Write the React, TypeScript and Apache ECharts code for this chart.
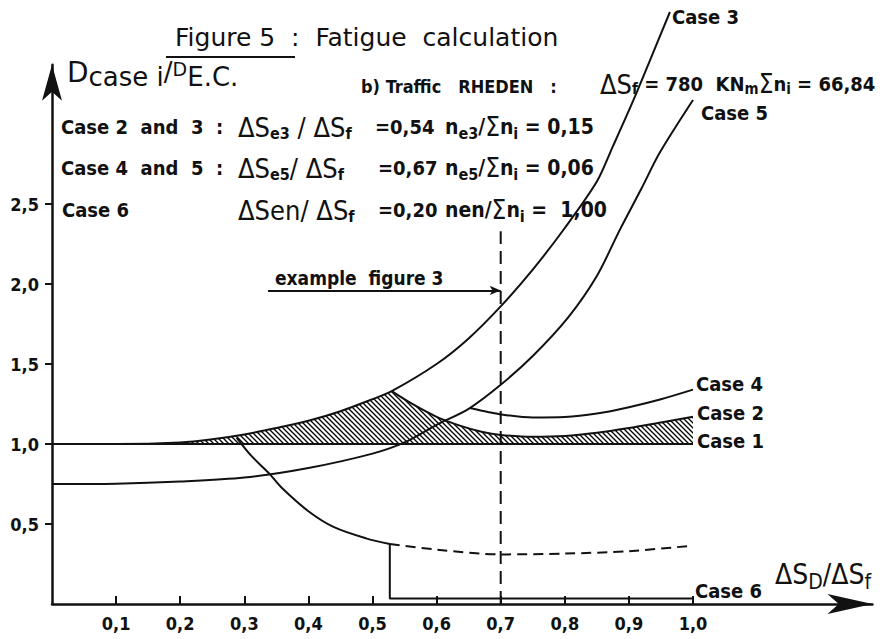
import React, { useEffect, useRef } from "react";
import * as echarts from "echarts";

// ---------- data ----------
const X_TICKS = [0.1, 0.2, 0.3, 0.4, 0.5, 0.6, 0.7, 0.8, 0.9, 1.0];
const Y_TICKS = [0.5, 1.0, 1.5, 2.0, 2.5];

const CASE1 = [[0, 1.0], [1.0, 1.0]];
// Case 3 (identical to Case 2 up to ΔSe3/ΔSf ≈ 0.53)
const CASE3 = [
  [0, 1.0], [0.1, 1.0], [0.2, 1.01], [0.25, 1.03], [0.3, 1.06], [0.35, 1.1],
  [0.4, 1.145], [0.45, 1.205], [0.5, 1.28], [0.53, 1.33], [0.6, 1.5],
  [0.65, 1.66], [0.7, 1.86], [0.75, 2.09], [0.8, 2.35], [0.85, 2.64],
  [0.875, 2.86], [0.905, 3.13], [0.93, 3.37], [0.964, 3.7],
];
// Case 2 branch after the peak
const CASE2 = [
  [0.53, 1.33], [0.56, 1.255], [0.6, 1.17], [0.64, 1.11], [0.67, 1.077],
  [0.7, 1.057], [0.75, 1.045], [0.8, 1.05], [0.85, 1.07], [0.9, 1.1],
  [0.95, 1.135], [1.0, 1.17],
];
const CASE5 = [
  [0, 0.75], [0.1, 0.752], [0.2, 0.765], [0.3, 0.79], [0.4, 0.85], [0.5, 0.94],
  [0.55, 1.01], [0.6, 1.12], [0.65, 1.22], [0.7, 1.37], [0.75, 1.55],
  [0.805, 1.79], [0.85, 2.05], [0.886, 2.34], [0.92, 2.6], [0.948, 2.82],
  [1.0, 3.15],
];
// Case 4 branch after ΔSe5/ΔSf ≈ 0.65
const CASE4 = [
  [0.652, 1.225], [0.68, 1.2], [0.7, 1.185], [0.75, 1.165], [0.8, 1.168],
  [0.85, 1.19], [0.9, 1.23], [0.95, 1.28], [1.0, 1.34],
];
const CASE6_CURVE = [
  [0.288, 1.04], [0.31, 0.93], [0.34, 0.81], [0.36, 0.72], [0.4, 0.58],
  [0.44, 0.48], [0.49, 0.41], [0.527, 0.375],
];
const CASE6_STEP = [[0.527, 0.375], [0.527, 0.035], [1.0, 0.035]];
const CASE6_DASHED = [
  [0.527, 0.375], [0.6, 0.34], [0.7, 0.31], [0.8, 0.315], [0.9, 0.33], [1.0, 0.365],
];
const EXAMPLE_X = 0.7;
const EXAMPLE_TOP = 2.33;
const ARROW_FROM = [0.337, 1.96];
const ARROW_TO = [0.7, 1.96];

// ---------- layout ----------
const X_MAX = 1.28;
const Y_MAX = 3.37;
const PX_X = 641;
const PX_Y = 160;
const ORIGIN_X = 52;
const ORIGIN_Y = 604;

const FONT = '"DejaVu Sans Condensed", "DejaVu Sans", sans-serif';
const FONT_T = '"DejaVu Sans", sans-serif';
const INK = "#111";

const hatchSvg =
  "<svg xmlns='http://www.w3.org/2000/svg' width='5' height='5'>" +
  "<rect width='5' height='5' fill='white'/>" +
  "<path d='M-1,-1L6,6M-1,4L1,6M4,-1L6,1' stroke='black' stroke-width='1.3'/></svg>";
const hatchUrl = "data:image/svg+xml;charset=utf-8," + encodeURIComponent(hatchSvg);

const tok = (fontSize: number, extra: any = {}) => ({
  fontSize,
  fontFamily: FONT,
  fontWeight: "bold",
  fill: INK,
  ...extra,
});

const RICH: any = {
  n: tok(20),
  n2: tok(21),
  s: tok(18),
  big: tok(27, { fontWeight: "normal" }),
  sig: tok(26, { fontWeight: "normal" }),
  sub: tok(16, { padding: [13, 0, 0, 0] }),
  sb: tok(15, { padding: [10, 0, 0, 0] }),
  xb: tok(28, { fontWeight: "normal" }),
  xs: tok(21, { fontWeight: "normal", padding: [16, 0, 0, 0] }),
  yb: tok(28, { fontWeight: "normal", fontFamily: FONT_T }),
  ys: tok(26, { fontWeight: "normal", fontFamily: FONT_T, padding: [10, 0, 0, 0] }),
  ym: tok(26, { fontWeight: "normal", fontFamily: FONT_T }),
  yu: tok(19, { fontWeight: "normal", fontFamily: FONT_T, padding: [0, 0, 6, 0] }),
  t: tok(25, { fontWeight: "normal", fontFamily: FONT_T }),
  e: tok(19),
};

const txt = (x: number, y: number, text: string) => ({
  type: "text",
  x,
  y,
  silent: true,
  style: {
    text,
    rich: RICH,
    fill: INK,
    font: `bold 18px ${FONT}`,
    align: "left",
    verticalAlign: "middle",
    textAlign: "left",
    textVerticalAlign: "middle",
  },
});

const fmt = (v: number) => v.toFixed(1).replace(".", ",");

const lineBase = (name: string, data: number[][], extra: any = {}) => ({
  name,
  type: "line",
  data,
  showSymbol: false,
  symbol: "none",
  clip: false,
  silent: true,
  lineStyle: { color: INK, width: 2 },
  ...extra,
});

const endLabel = (text: string, offset: number[]) => ({
  show: true,
  formatter: text,
  offset,
  distance: 0,
  color: INK,
  fontSize: 20,
  fontWeight: "bold",
  fontFamily: FONT,
});

export default function App() {
  const ref = useRef<HTMLDivElement>(null);
  useEffect(() => {
    if (!ref.current) return;
    const chart = echarts.init(ref.current, undefined, { renderer: "svg" });
    const hatchData = CASE3.filter((p) => p[0] < 0.53).concat(CASE2);
    const option: any = {
      animation: false,
      backgroundColor: "#fff",
      grid: {
        left: ORIGIN_X,
        top: ORIGIN_Y - Y_MAX * PX_Y,
        width: X_MAX * PX_X,
        height: Y_MAX * PX_Y,
      },
      xAxis: {
        type: "value",
        min: 0,
        max: X_MAX,
        splitLine: { show: false },
        axisLine: {
          show: true,
          onZero: false,
          symbol: ["none", "arrow"],
          symbolSize: [15, 45],
          lineStyle: { color: INK, width: 2.5 },
        },
        axisTick: {
          show: true,
          inside: true,
          length: 8,
          customValues: X_TICKS,
          lineStyle: { color: INK, width: 2 },
        },
        axisLabel: {
          show: true,
          customValues: X_TICKS,
          formatter: fmt,
          margin: 10,
          color: INK,
          fontSize: 18,
          fontWeight: "bold",
          fontFamily: FONT,
        },
      },
      yAxis: {
        type: "value",
        min: 0,
        max: Y_MAX,
        splitLine: { show: false },
        axisLine: {
          show: true,
          onZero: false,
          symbol: ["none", "arrow"],
          symbolSize: [15, 36],
          lineStyle: { color: INK, width: 2.5 },
        },
        axisTick: {
          show: true,
          length: 7,
          customValues: Y_TICKS,
          lineStyle: { color: INK, width: 2 },
        },
        axisLabel: {
          show: true,
          customValues: Y_TICKS,
          formatter: fmt,
          margin: 13,
          color: INK,
          fontSize: 18,
          fontWeight: "bold",
          fontFamily: FONT,
        },
      },
      series: [
        lineBase("hatch", hatchData, {
          lineStyle: { width: 0, opacity: 0 },
          areaStyle: {
            origin: 1.0,
            opacity: 1,
            color: { image: hatchUrl, repeat: "repeat", imageWidth: 5, imageHeight: 5 },
          },
          z: 1,
        }),
        lineBase("Case 1", CASE1, { endLabel: endLabel("Case 1", [4, -3]), z: 3 }),
        lineBase("Case 3", CASE3, { smooth: 0.3, endLabel: endLabel("Case 3", [2, 5]), z: 3 }),
        lineBase("Case 2", CASE2, { smooth: 0.3, endLabel: endLabel("Case 2", [4, -4]), z: 3 }),
        lineBase("Case 5", CASE5, { smooth: 0.3, endLabel: endLabel("Case 5", [8, 13]), z: 3 }),
        lineBase("Case 4", CASE4, { smooth: 0.3, endLabel: endLabel("Case 4", [3, -6]), z: 3 }),
        lineBase("Case 6 curve", CASE6_CURVE, { smooth: 0.3, z: 3 }),
        lineBase("Case 6", CASE6_STEP, { endLabel: endLabel("Case 6", [2, -7]), z: 3 }),
        lineBase("Case 6 dashed", CASE6_DASHED, {
          smooth: 0.3,
          lineStyle: { color: INK, width: 2, type: [10, 6] },
          z: 3,
        }),
        lineBase("example", [[EXAMPLE_X, 0], [EXAMPLE_X, EXAMPLE_TOP]], {
          lineStyle: { color: INK, width: 2, type: [13, 7] },
          z: 3,
          markLine: {
            silent: true,
            symbol: ["none", "arrow"],
            symbolSize: [7, 11],
            label: { show: false },
            lineStyle: { color: INK, width: 2, type: "solid" },
            data: [[{ coord: ARROW_FROM }, { coord: ARROW_TO }]],
          },
        }),
      ],
      graphic: [
        txt(175, 37, "{t|Figure 5  :  Fatigue  calculation}"),
        { type: "line", silent: true, shape: { x1: 166, y1: 57, x2: 295, y2: 57 }, style: { stroke: INK, lineWidth: 1.8 } },
        txt(67, 72, "{yb|D}{ys|case i}{ym|/}{yu|D}{ys|E.C.}"),
        txt(361, 86, "{s|b) Traffic   RHEDEN   :}"),
        txt(600, 84, "{big|ΔS}{sb|f}{n| = 780  KN}{sb|m}{sig|Σ}{n|n}{sb|i}{n| = 66,84}"),
        txt(61, 127, "{n|Case 2  and  3  :}"),
        txt(238, 127, "{big|ΔS}{sub|e3}{big| / ΔS}{sub|f}"),
        txt(375, 127, "{n|=0,54}"),
        txt(445, 127, "{n2|n}{sub|e3}{n2|/}{sig|Σ}{n2|n}{sub|i}{n2| = 0,15}"),
        txt(61, 168, "{n|Case 4  and  5  :}"),
        txt(238, 168, "{big|ΔS}{sub|e5}{big|/ ΔS}{sub|f}"),
        txt(378, 168, "{n|=0,67}"),
        txt(445, 168, "{n2|n}{sub|e5}{n2|/}{sig|Σ}{n2|n}{sub|i}{n2| = 0,06}"),
        txt(62, 210, "{n|Case 6}"),
        txt(238, 210, "{big|ΔSen/ ΔS}{sub|f}"),
        txt(378, 210, "{n|=0,20}"),
        txt(445, 210, "{n2|nen/}{sig|Σ}{n2|n}{sub|i}{n2| =  1,00}"),
        txt(275, 278, "{e|example  figure 3}"),
        txt(775, 574, "{xb|ΔS}{xs|D}{xb|/ΔS}{xs|f}"),
      ],
    };
    chart.setOption(option);
    return () => chart.dispose();
  }, []);
  return (
    <div
      ref={ref}
      style={{ position: "absolute", left: 0, top: 0, width: 895, height: 639 }}
    />
  );
}
